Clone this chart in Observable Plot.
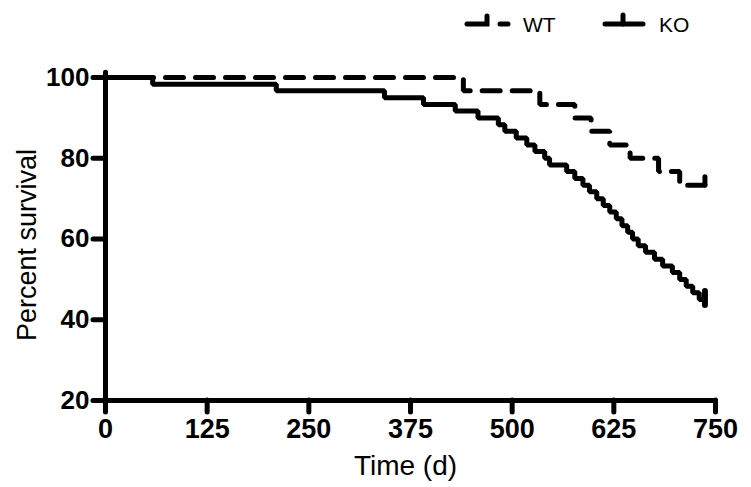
<!DOCTYPE html>
<html>
<head>
<meta charset="utf-8">
<script src="https://cdn.jsdelivr.net/npm/d3@7"></script>
<script src="https://cdn.jsdelivr.net/npm/@observablehq/plot@0.6"></script>
<style>
  html, body { margin: 0; padding: 0; background: #fff; }
  #wrap { width: 751px; font-family: "Liberation Sans", Arial, sans-serif; }
  #legend { position: relative; height: 50px; width: 751px; }
  #legend .lab { position: absolute; top: 13px; font-size: 21px; color: #000; }
  #legend svg { position: absolute; left: 0; top: 0; }
</style>
</head>
<body>
<div id="wrap">
  <div id="legend">
    <svg width="751" height="50">
      <g stroke="#000" stroke-width="5" stroke-linecap="round" fill="none">
        <path d="M467,24 H487 V16"/>
        <path d="M500,24 H508"/>
        <path d="M605,24 H643"/>
        <path d="M623,24 V15"/>
      </g>
    </svg>
    <span class="lab" style="left:523px">WT</span>
    <span class="lab" style="left:659px">KO</span>
  </div>
  <div id="chart"></div>
</div>
<script>
// WT survival (step times in days, percent survival)
const wtTimes = [0, 440, 534, 577, 597, 620, 645, 680, 706, 737];
const wtSurv  = [100, 96.7, 93.3, 90, 86.7, 83.3, 80, 76.7, 73.3, 73.3];

// KO survival
const koTimes = [0, 58, 210, 343, 391, 430, 458, 483, 491, 505,
                 518, 528, 540, 546, 567, 577, 587, 595, 604, 612,
                 620, 628, 635, 642, 648, 655, 664, 675, 685, 697,
                 706, 714, 722, 730, 737];
const koSurv  = [100, 98.3, 96.7, 95, 93.3, 91.7, 90, 88.3, 86.7, 85,
                 83.3, 81.7, 80, 78.3, 76.7, 75, 73.3, 71.7, 70, 68.3,
                 66.7, 65, 63.3, 61.7, 60, 58.3, 56.7, 55, 53.3, 51.7,
                 50, 48.3, 46.7, 45, 45];

// censored observations (end of follow-up)
const wtCensorTimes = [737];
const wtCensorSurv  = [73.3];
const koCensorTimes = [737];
const koCensorSurv  = [45];

const xTicks = [0, 125, 250, 375, 500, 625, 750];
const yTicks = [20, 40, 60, 80, 100];

const wt = wtTimes.map((t, i) => ({t, s: wtSurv[i]}));
const ko = koTimes.map((t, i) => ({t, s: koSurv[i]}));
const wtC = wtCensorTimes.map((t, i) => ({t, s: wtCensorSurv[i]}));
const koC = koCensorTimes.map((t, i) => ({t, s: koCensorSurv[i]}));

const chart = Plot.plot({
  width: 751,
  height: 437,
  marginLeft: 105,
  marginRight: 36,
  marginTop: 27,
  marginBottom: 87,
  style: { fontFamily: '"Liberation Sans", Arial, sans-serif', color: "#000", background: "#fff" },
  x: { domain: [0, 750] },
  y: { domain: [20, 100] },
  marks: [
    Plot.axisX({ticks: xTicks, tickSize: 12, tickPadding: 6, strokeWidth: 5, strokeLinecap: "round",
                fontSize: 27, fontWeight: "bold", label: null, anchor: "bottom"}),
    Plot.axisY({ticks: yTicks, tickSize: 12, tickPadding: 4, strokeWidth: 5, strokeLinecap: "round",
                fontSize: 26, fontWeight: "bold", label: null, anchor: "left"}),
    Plot.ruleY([20], {x1: 0, x2: 750, strokeWidth: 5, strokeLinecap: "round"}),
    Plot.ruleX([0], {y1: 20, y2: 101.2, strokeWidth: 5, strokeLinecap: "round"}),
    Plot.line(wt, {x: "t", y: "s", curve: "step-after", stroke: "#000", strokeWidth: 5,
                   strokeDasharray: "18,12", strokeLinecap: "round", strokeLinejoin: "miter"}),
    Plot.line(ko, {x: "t", y: "s", curve: "step-after", stroke: "#000", strokeWidth: 5,
                   strokeLinecap: "round", strokeLinejoin: "miter"}),
    Plot.ruleX(wtC, {x: "t", y1: "s", y2: d => d.s + 2, strokeWidth: 5, strokeLinecap: "round"}),
    Plot.ruleX(koC, {x: "t", y1: d => d.s - 1.5, y2: d => d.s + 2, strokeWidth: 6, strokeLinecap: "round"}),
    Plot.text(["Time (d)"], {frameAnchor: "bottom", textAnchor: "middle", dx: -5, dy: 66, fontSize: 28, lineAnchor: "middle"}),
    Plot.text(["Percent survival"], {frameAnchor: "left", textAnchor: "middle", rotate: -90, dx: -78, dy: 6, fontSize: 27, lineAnchor: "middle"})
  ]
});
document.getElementById("chart").appendChild(chart);
</script>
</body>
</html>
